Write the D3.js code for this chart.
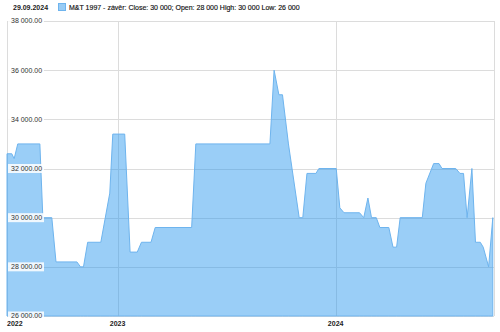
<!DOCTYPE html>
<head>
  <meta charset="utf-8">
  <script src="https://d3js.org/d3.v7.min.js"></script>
  <style>
    body { margin:0; background:#fff; }
    text { font-family: "Liberation Sans", Arial, sans-serif; }
  </style>
</head>
<body>
  <div class="chart"></div>
  <script>
    // closing prices
    const dates = [
      '2022-06-30','2022-07-08','2022-07-12','2022-07-18','2022-08-24','2022-08-29',
      '2022-09-13','2022-09-20','2022-10-25','2022-10-31','2022-11-05','2022-11-12',
      '2022-12-04','2022-12-19','2022-12-24','2023-01-13','2023-01-22','2023-02-03',
      '2023-02-10','2023-02-26','2023-03-05','2023-05-05','2023-05-12','2023-09-13',
      '2023-09-20','2023-09-28','2023-10-04','2023-10-14','2023-11-01','2023-11-07',
      '2023-11-14','2023-11-29','2023-12-04','2024-01-02','2024-01-08','2024-01-15',
      '2024-02-10','2024-02-17','2024-02-24','2024-03-01','2024-03-09','2024-03-15',
      '2024-03-30','2024-04-06','2024-04-12','2024-04-18','2024-05-25','2024-05-31',
      '2024-06-13','2024-06-22','2024-06-27','2024-07-20','2024-07-27','2024-08-02',
      '2024-08-08','2024-08-16','2024-08-22','2024-08-30','2024-09-04','2024-09-13',
      '2024-09-20'
    ];
    const closes = [
      32600, 32600, 32400, 33000, 33000, 30000,
      30000, 28200, 28200, 28000, 28000, 29000,
      29000, 31000, 33400, 33400, 28600, 28600,
      29000, 29000, 29600, 29600, 33000, 33000,
      36000, 35000, 35000, 33000, 30000, 30000,
      31800, 31800, 32000, 32000, 30400, 30200,
      30200, 30000, 30800, 30000, 30000, 29600,
      29600, 28800, 28800, 30000, 30000, 31400,
      32200, 32200, 32000, 32000, 31800, 31800,
      30000, 32000, 29000, 29000, 28800, 28000,
      30000
    ];
    const yTicks = [26000, 28000, 30000, 32000, 34000, 36000, 38000];
    const xTicks = ['2022-06-30', '2023-01-01', '2024-01-01'];
    const xTickLabels = ['2022', '2023', '2024'];
    const headerDate = '29.09.2024';
    const legendText = 'M&T 1997 - závěr: Close: 30 000; Open: 28 000 High: 30 000 Low: 26 000';

    const width = 500, height = 332;
    const plot = { left: 7, right: 494, top: 21, bottom: 316 };

    const parseTime = d3.timeParse('%Y-%m-%d');
    const data = dates.map((d, i) => ({ date: parseTime(d), close: closes[i] }));

    const svg = d3.select('.chart').append('svg')
      .attr('width', width)
      .attr('height', height);

    const xScale = d3.scaleTime()
      .domain([parseTime('2022-06-30'), parseTime('2024-09-22')])
      .range([plot.left, plot.right]);

    const yScale = d3.scaleLinear()
      .domain([26000, 38000])
      .range([plot.bottom, plot.top]);

    // grid
    svg.append('g')
      .selectAll('line')
      .data(yTicks)
      .enter().append('line')
      .attr('x1', plot.left).attr('x2', plot.right)
      .attr('y1', d => Math.round(yScale(d)) + 0.5)
      .attr('y2', d => Math.round(yScale(d)) + 0.5)
      .style('stroke', '#dcdcdc');

    svg.append('g')
      .selectAll('line')
      .data(xTicks.slice(1))
      .enter().append('line')
      .attr('x1', d => Math.round(xScale(parseTime(d))) + 0.5)
      .attr('x2', d => Math.round(xScale(parseTime(d))) + 0.5)
      .attr('y1', plot.top).attr('y2', plot.bottom)
      .style('stroke', '#dcdcdc');

    // frame left/right
    [plot.left, plot.right].forEach(x => {
      svg.append('line')
        .attr('x1', x + 0.5).attr('x2', x + 0.5)
        .attr('y1', plot.top).attr('y2', plot.bottom)
        .style('stroke', '#dcdcdc');
    });

    const area = d3.area()
      .x(d => xScale(d.date))
      .y0(yScale(26000))
      .y1(d => yScale(d.close));

    svg.append('path')
      .datum(data)
      .attr('d', area)
      .style('fill', 'rgb(40,150,238)')
      .style('fill-opacity', 0.47)
      .style('stroke', 'rgb(110,180,238)')
      .style('stroke-width', 1);

    // y labels sit inside the plot on a white box
    const yl = svg.append('g')
      .selectAll('g')
      .data(yTicks)
      .enter().append('g')
      .attr('transform', d => `translate(${plot.left + 1},${yScale(d)})`);
    yl.append('rect')
      .attr('x', 0).attr('y', -4.5)
      .attr('width', 36).attr('height', 9)
      .style('fill', 'rgba(255,255,255,0.85)');
    yl.append('text')
      .attr('x', 3).attr('dy', '0.35em')
      .style('font-size', '7px')
      .style('fill', '#333')
      .text(d => d3.format(',.2f')(d).replace(/,/g, ' '));

    // x labels
    svg.append('g')
      .selectAll('text')
      .data(xTicks)
      .enter().append('text')
      .attr('x', (d, i) => i === 0 ? plot.left : xScale(parseTime(d)))
      .attr('y', 326)
      .attr('text-anchor', (d, i) => i === 0 ? 'start' : 'middle')
      .style('font-size', '7px')
      .style('font-weight', 'bold')
      .style('fill', '#222')
      .text((d, i) => xTickLabels[i]);

    // header
    svg.append('text')
      .attr('x', 13).attr('y', 10)
      .style('font-size', '7px')
      .style('font-weight', 'bold')
      .style('fill', '#222')
      .text(headerDate);

    svg.append('rect')
      .attr('x', 58.5).attr('y', 3.5)
      .attr('width', 7).attr('height', 7)
      .style('fill', 'rgb(153,204,245)')
      .style('stroke', 'rgb(110,180,238)');

    svg.append('text')
      .attr('x', 69).attr('y', 10)
      .style('font-size', '7px')
      .style('fill', '#111')
      .style('stroke', '#111')
      .style('stroke-width', 0.15)
      .text(legendText);
  </script>
</body>
